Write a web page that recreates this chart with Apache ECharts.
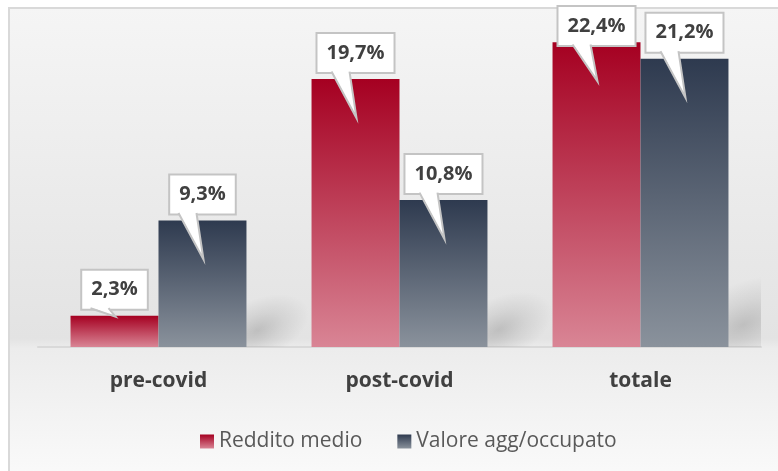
<!DOCTYPE html>
<html>
<head>
<meta charset="utf-8">
<script src="https://cdn.jsdelivr.net/npm/echarts@6/dist/echarts.min.js"></script>
<style>
  html, body { margin: 0; padding: 0; background: #fff; }
  #chart { width: 778px; height: 471px; }
</style>
</head>
<body>
<div id="chart"></div>
<script>
const categories = ['pre-covid', 'post-covid', 'totale']
const seriesNames = ['Reddito medio', 'Valore agg/occupato']
const redditoMedio = [2.3, 19.7, 22.4]
const valoreAgg = [9.3, 10.8, 21.2]

const FONT = '"Open Sans", Lato, sans-serif'
const GAP = 0.27
const colors = [
    ['#a50021', '#d98595'],
    ['#2e3a4f', '#8a929c'],
]

function grad(c) {
    return new echarts.graphic.LinearGradient(0, 0, 0, 1, [
        { offset: 0, color: c[0] },
        { offset: 1, color: c[1] },
    ])
}

function fmt(v) {
    return v.toFixed(1).replace('.', ',') + '%'
}

// callout boxes with a tail pointing into the bar
let calloutData = []
redditoMedio.forEach((v, i) => calloutData.push([i, v, 0]))
valoreAgg.forEach((v, i) => calloutData.push([i, v, 1]))

function renderCallout(params, api) {
    const cat = api.value(0), val = api.value(1), s = api.value(2)
    const p = api.coord([cat, val])
    const base = api.coord([cat, 0])[1]
    const band = api.size([1, 0])[0]
    const barW = band * (1 - GAP) / 2
    const cx = p[0] + (s === 0 ? -barW / 2 : barW / 2)
    const top = p[1]
    const boxH = 38
    const boxBottom = Math.max(top - 7, params.coordSys.y + boxH)
    const tipY = base - top > 60 ? top + 39 : top + 1
    return {
        type: 'group',
        children: [
            {
                type: 'text',
                x: cx, y: boxBottom,
                style: {
                    text: fmt(val),
                    font: 'bold 20px ' + FONT,
                    fill: '#404040',
                    align: 'center',
                    verticalAlign: 'bottom',
                    lineHeight: 22,
                    backgroundColor: '#fff',
                    borderColor: '#c4c4c4',
                    borderWidth: 2,
                    padding: [8, 9],
                },
            },
            {
                type: 'polygon',
                shape: { points: [[cx - 24, boxBottom - 1.6], [cx - 6, boxBottom - 1.6], [cx + 1, tipY]] },
                style: { fill: '#fff' },
            },
            {
                type: 'polyline',
                shape: { points: [[cx - 24, boxBottom - 0.5], [cx + 1, tipY], [cx - 6, boxBottom - 0.5]] },
                style: { stroke: '#c4c4c4', lineWidth: 2, fill: null },
            },
        ],
    }
}

// soft shadow to the right of the grey bars
function renderShadow(params, api) {
    const cat = api.value(0), val = api.value(1)
    const p = api.coord([cat, val])
    const base = api.coord([cat, 0])[1]
    const band = api.size([1, 0])[0]
    const barW = band * (1 - GAP) / 2
    const right = p[0] + barW
    const h = base - p[1]
    const r = 40 + h * 0.12
    return {
        type: 'circle',
        x: right + r * 0.2, y: base - r * 0.3,
        scaleX: 1, scaleY: 0.55,
        rotation: 0.45,
        shape: { cx: 0, cy: 0, r: r },
        style: {
            fill: new echarts.graphic.RadialGradient(0.5, 0.5, 0.5, [
                { offset: 0, color: 'rgba(0,0,0,0.16)' },
                { offset: 0.5, color: 'rgba(0,0,0,0.07)' },
                { offset: 1, color: 'rgba(0,0,0,0)' },
            ]),
        },
    }
}

const chart = echarts.init(document.getElementById('chart'))
chart.setOption({
    animation: false,
    graphic: [{
        type: 'rect',
        z: -10,
        shape: { x: 9, y: 8, width: 800, height: 500 },
        style: {
            fill: new echarts.graphic.LinearGradient(0, 0, 0, 1, [
                { offset: 0, color: '#f5f5f5' },
                { offset: 0.66, color: '#e3e3e3' },
                { offset: 0.68, color: '#ececec' },
                { offset: 0.94, color: '#fafafa' },
                { offset: 1, color: '#fbfbfb' },
            ]),
            stroke: '#d9d9d9',
            lineWidth: 2,
        },
    }],
    grid: { left: 38, right: 17, top: 7, bottom: 124 },
    legend: {
        top: 426,
        left: 195,
        icon: 'rect',
        itemWidth: 14,
        itemHeight: 14,
        itemGap: 35,
        selectedMode: false,
        textStyle: { color: '#595959', fontSize: 21, fontFamily: FONT },
        data: seriesNames,
    },
    xAxis: {
        type: 'category',
        data: categories,
        axisLine: { lineStyle: { color: '#d9d9d9', width: 2 } },
        axisTick: { show: false },
        axisLabel: { color: '#404040', fontSize: 21, fontWeight: 'bold', fontFamily: FONT, margin: 24 },
    },
    yAxis: { type: 'value', min: 0, max: 25, show: false },
    series: [
        {
            type: 'custom',
            z: 1,
            clip: true,
            silent: true,
            renderItem: renderShadow,
            data: valoreAgg.map((v, i) => [i, v]),
        },
        {
            name: seriesNames[0],
            type: 'bar',
            z: 2,
            barGap: '0%',
            barCategoryGap: '27%',
            data: redditoMedio,
            itemStyle: { color: grad(colors[0]) },
        },
        {
            name: seriesNames[1],
            type: 'bar',
            z: 2,
            data: valoreAgg,
            itemStyle: { color: grad(colors[1]) },
        },
        {
            type: 'custom',
            z: 5,
            clip: false,
            silent: true,
            renderItem: renderCallout,
            data: calloutData,
        },
    ],
})
</script>
</body>
</html>
